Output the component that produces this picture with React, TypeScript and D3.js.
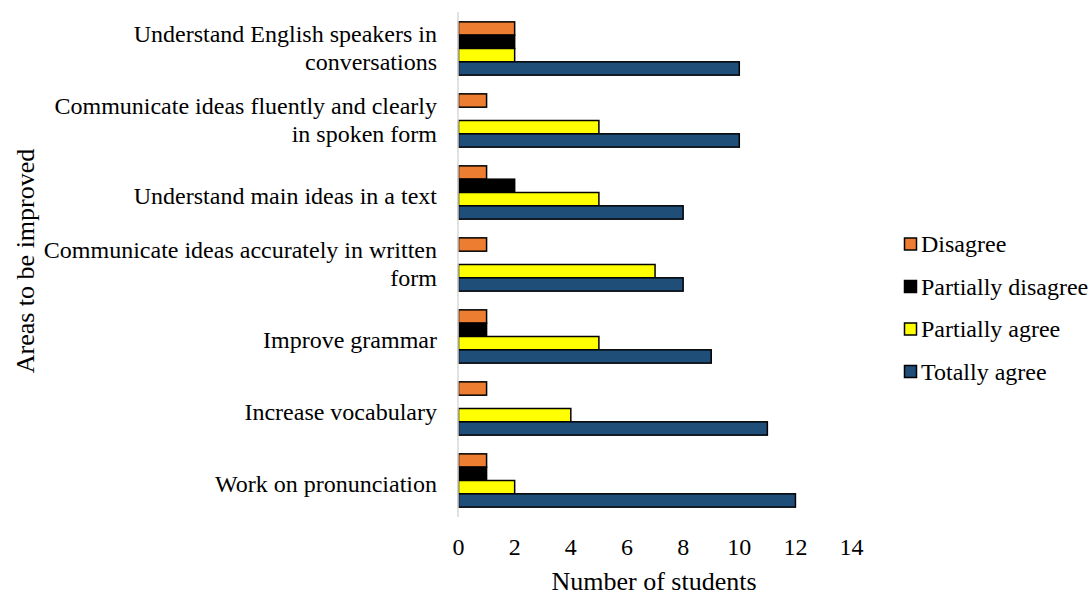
import React from "react";
import * as d3 from "d3";

// Survey: areas students would like to improve, by level of agreement
const categories: string[][] = [
  ["Understand English speakers in", "conversations"],
  ["Communicate ideas fluently and clearly", "in spoken form"],
  ["Understand main ideas in a text"],
  ["Communicate ideas accurately in written", "form"],
  ["Improve grammar"],
  ["Increase vocabulary"],
  ["Work on pronunciation"],
];

const seriesNames = ["Disagree", "Partially disagree", "Partially agree", "Totally agree"];
const seriesColors = ["#ED7D31", "#000000", "#FFFF00", "#1F4E79"];

const disagree = [2, 1, 1, 1, 1, 1, 1];
const partiallyDisagree = [2, 0, 2, 0, 1, 0, 1];
const partiallyAgree = [2, 5, 5, 7, 5, 4, 2];
const totallyAgree = [10, 10, 8, 8, 9, 11, 12];

const seriesValues = [disagree, partiallyDisagree, partiallyAgree, totallyAgree];
const xTicks = [0, 2, 4, 6, 8, 10, 12, 14];

const W = 1090;
const H = 595;
const textStyle: React.CSSProperties = { fontFamily: '"Liberation Serif"' };

export default function App() {
  const x = d3.scaleLinear().domain([0, 14]).range([458.5, 851.6]);
  const y = d3
    .scaleBand<number>()
    .domain(categories.map((_, i) => i))
    .range([12.5, 516.5])
    .paddingInner(0.26)
    .paddingOuter(0.13);
  const inner = d3
    .scaleBand<number>()
    .domain(seriesNames.map((_, i) => i))
    .range([0, y.bandwidth()]);

  const legendY = [244, 286.5, 329, 371.5];

  return (
    <svg
      width={W}
      height={H}
      style={{ position: "absolute", left: 0, top: 0, background: "#fff" }}
    >
      {/* bars */}
      {categories.map((_, ci) =>
        seriesValues.map((vals, si) =>
          vals[ci] > 0 ? (
            <rect
              key={`${ci}-${si}`}
              x={x(0)}
              y={(y(ci) as number) + (inner(si) as number)}
              width={x(vals[ci]) - x(0)}
              height={inner.bandwidth()}
              fill={seriesColors[si]}
              stroke="#000"
              strokeWidth={1.5}
            />
          ) : null
        )
      )}

      {/* category axis line */}
      <line x1={x(0) - 0.5} x2={x(0) - 0.5} y1={12} y2={517} stroke="#d9d9d9" strokeWidth={1.5} />

      {/* category labels */}
      {categories.map((lines, ci) => {
        const c = (y(ci) as number) + y.bandwidth() / 2;
        return (
          <text key={ci} x={437} textAnchor="end" fontSize={24} fill="#000" style={textStyle}>
            {lines.length === 1 ? (
              <tspan x={437} y={c + 11}>
                {lines[0]}
              </tspan>
            ) : (
              lines.map((l, li) => (
                <tspan key={li} x={437} y={c - 7 + li * 28}>
                  {l}
                </tspan>
              ))
            )}
          </text>
        );
      })}

      {/* value axis tick labels */}
      {xTicks.map((t) => (
        <text key={t} x={x(t)} y={555} textAnchor="middle" fontSize={24} fill="#000" style={textStyle}>
          {t}
        </text>
      ))}

      {/* axis titles */}
      <text x={654} y={590} textAnchor="middle" fontSize={26} fill="#000" style={textStyle}>
        Number of students
      </text>
      <text
        transform={`translate(34, 261) rotate(-90)`}
        textAnchor="middle"
        fontSize={26}
        fill="#000"
        style={textStyle}
      >
        Areas to be improved
      </text>

      {/* legend */}
      {seriesNames.map((name, si) => (
        <g key={name}>
          <rect
            x={904.5}
            y={legendY[si] - 6}
            width={12}
            height={12}
            fill={seriesColors[si]}
            stroke="#000"
            strokeWidth={1.5}
          />
          <text x={921} y={legendY[si] + 8} fontSize={24} fill="#000" style={textStyle}>
            {name}
          </text>
        </g>
      ))}
    </svg>
  );
}
